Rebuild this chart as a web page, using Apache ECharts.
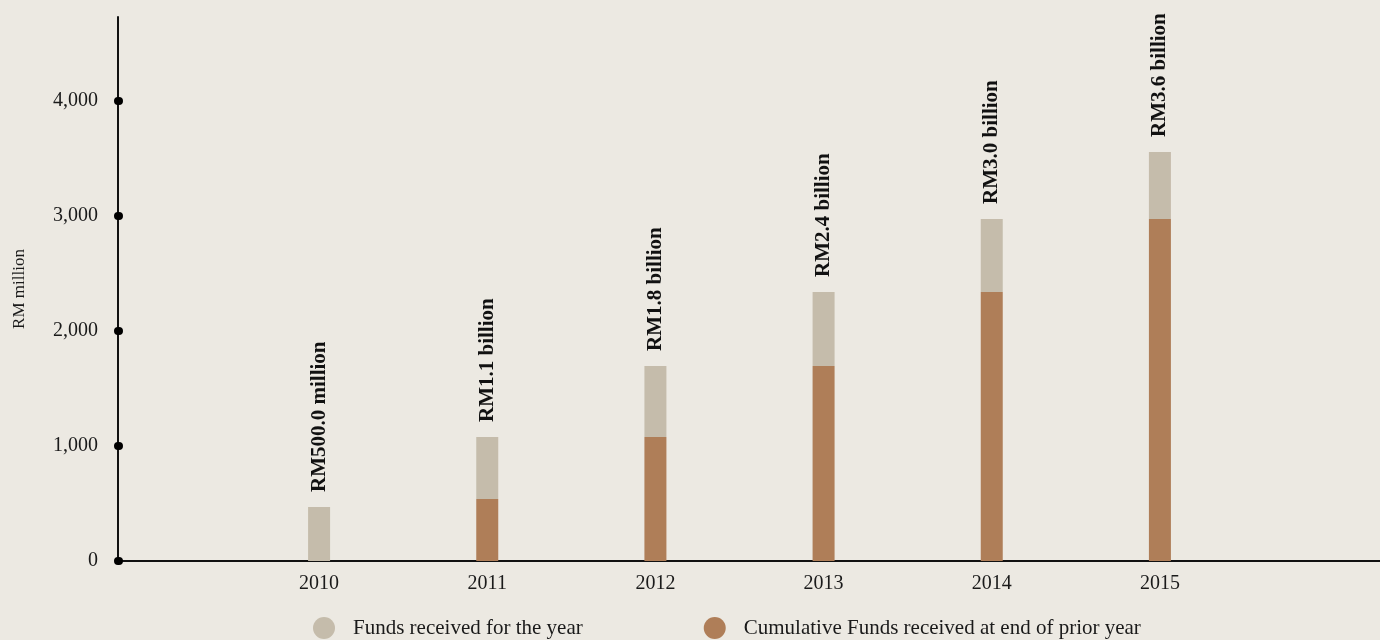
<!DOCTYPE html>
<html>
<head>
<meta charset="utf-8">
<script src="https://cdn.jsdelivr.net/npm/echarts@6/dist/echarts.min.js"></script>
<style>
  html, body { margin: 0; padding: 0; background: #ece9e2; }
  #chart { width: 1380px; height: 640px; }
</style>
</head>
<body>
<div id="chart"></div>
<script>
const years = ['2010', '2011', '2012', '2013', '2014', '2015'];
const fundsForYear = [470, 539, 618, 643, 635, 583];
const cumulativePrior = [0, 539, 1078, 1696, 2339, 2974];
const totalLabels = ['RM500.0 million', 'RM1.1 billion', 'RM1.8 billion', 'RM2.4 billion', 'RM3.0 billion', 'RM3.6 billion'];
const yTicks = [0, 1000, 2000, 3000, 4000];
const yMax = 4730;

const nameYear = 'Funds received for the year';
const nameCum = 'Cumulative Funds received at end of prior year';
const FONT = '"Liberation Serif", "DejaVu Serif", serif';

const chart = echarts.init(document.getElementById('chart'), null, { renderer: 'canvas' });
chart.setOption({
  animation: false,
  backgroundColor: '#ece9e2',
  textStyle: { fontFamily: FONT },
  grid: [
    { left: 118, right: 0, top: 17, bottom: 79 },
    { left: 235, right: 136, top: 17, bottom: 79 }
  ],
  legend: {
    data: [nameYear, nameCum],
    left: 313,
    top: 617,
    padding: 0,
    icon: 'circle',
    itemWidth: 22,
    itemHeight: 22,
    itemGap: 121,
    textStyle: { fontFamily: FONT, fontSize: 21, color: '#1a1a1a', padding: [0, 0, 0, 13] }
  },
  xAxis: [
    {
      gridIndex: 0, type: 'value', min: 0, max: 1,
      axisLine: { show: true, lineStyle: { color: '#111', width: 2 } },
      axisTick: { show: false }, axisLabel: { show: false }, splitLine: { show: false }
    },
    {
      gridIndex: 1, type: 'category', data: years,
      axisLine: { show: false }, axisTick: { show: false }, splitLine: { show: false },
      axisLabel: { margin: 13, fontFamily: FONT, fontSize: 20, color: '#1a1a1a' }
    }
  ],
  yAxis: [
    {
      gridIndex: 0, type: 'value', min: 0, max: yMax,
      axisLine: { show: true, lineStyle: { color: '#111', width: 2 } },
      axisTick: { show: true, customValues: yTicks, length: 1, inside: true, lineStyle: { width: 8, cap: 'round', color: '#000' } },
      axisLabel: {
        customValues: yTicks, margin: 20, fontFamily: FONT, fontSize: 20, color: '#1a1a1a',
        padding: [4, 0, 0, 0],
        formatter: v => Number(v).toLocaleString('en-US')
      },
      splitLine: { show: false },
      name: 'RM million', nameLocation: 'middle', nameGap: 90,
      nameTextStyle: { fontFamily: FONT, fontSize: 17, color: '#1a1a1a' }
    },
    { gridIndex: 1, type: 'value', min: 0, max: yMax, show: false }
  ],
  series: [
    {
      name: nameCum, type: 'bar', stack: 'total', xAxisIndex: 1, yAxisIndex: 1,
      data: cumulativePrior, barWidth: 22,
      itemStyle: { color: '#af7e58' }
    },
    {
      name: nameYear, type: 'bar', stack: 'total', xAxisIndex: 1, yAxisIndex: 1,
      data: fundsForYear, barWidth: 22,
      itemStyle: { color: '#c5bcab' },
      label: {
        show: true, position: 'top', rotate: 90, align: 'left', verticalAlign: 'middle',
        distance: 15, fontFamily: FONT, fontWeight: 'bold', fontSize: 21, color: '#111',
        formatter: p => totalLabels[p.dataIndex]
      }
    }
  ]
});
</script>
</body>
</html>
